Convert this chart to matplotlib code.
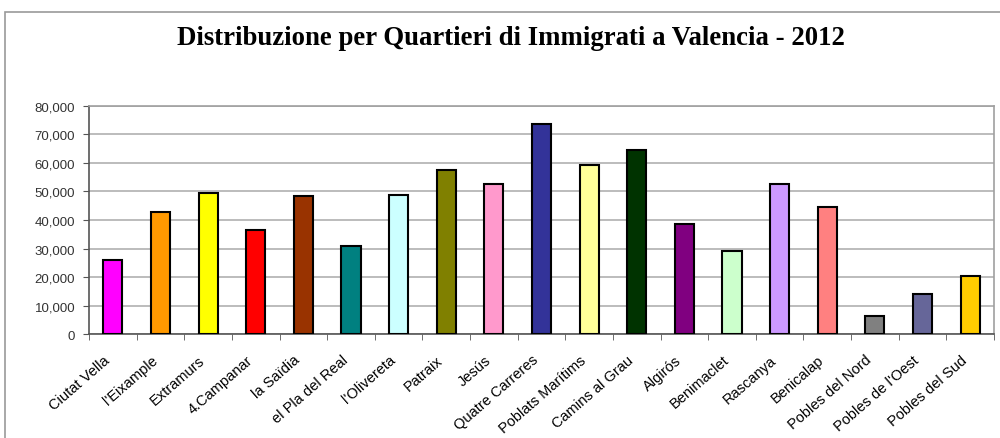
import matplotlib.pyplot as plt
from matplotlib.patches import Rectangle
from matplotlib.ticker import FuncFormatter, MultipleLocator
import numpy as np

# data
quartieri = ["Ciutat Vella", "l'Eixample", "Extramurs", "4.Campanar", "la Saïdia",
             "el Pla del Real", "l'Olivereta", "Patraix", "Jesús", "Quatre Carreres",
             "Poblats Marítims", "Camins al Grau", "Algirós", "Benimaclet", "Rascanya",
             "Benicalap", "Pobles del Nord", "Pobles de l'Oest", "Pobles del Sud"]
immigrati = [26000, 42900, 49300, 36400, 48300, 31000, 48900, 57600, 52700, 73500,
             59100, 64600, 38600, 29300, 52700, 44600, 6500, 14200, 20500]
colori = ["#FF00FF", "#FF9900", "#FFFF00", "#FF0000", "#993300", "#008080", "#CCFFFF",
          "#808000", "#FF99CC", "#333399", "#FFFF99", "#003300", "#800080", "#CCFFCC",
          "#CC99FF", "#FF8080", "#808080", "#666699", "#FFCC00"]

fig = plt.figure(figsize=(10, 4.39), dpi=100)
ax = fig.add_axes([0.089, 0.2362, 0.905, 0.5207])

# outer chart border (only top and left edges are visible)
fig.patches.append(Rectangle((0.005, -0.1), 1.2, 1.07, transform=fig.transFigure,
                             fill=False, edgecolor="#9a9a9a", linewidth=1.2))

x = np.arange(len(quartieri))
ax.bar(x, immigrati, width=0.4, color=colori, edgecolor="black", linewidth=1.5, zorder=3)

ax.set_xlim(-0.5, len(quartieri) - 0.5)
ax.set_ylim(0, 80000)
ax.yaxis.set_major_locator(MultipleLocator(10000))
ax.yaxis.set_major_formatter(FuncFormatter(lambda v, p: f"{int(v):,}"))
ax.grid(axis="y", color="#b0b0b0", linewidth=1.2, zorder=0)

# category labels drawn as annotations so they can be nudged like the original
ax.set_xticks(x)
ax.set_xticklabels([])
for i, nome in zip(x, quartieri):
    ax.annotate(nome, xy=(i, 0), xycoords=("data", "axes fraction"),
                xytext=(-7, -13), textcoords="offset points",
                rotation=41, rotation_mode="anchor", ha="right", va="top",
                fontsize=10.5, family="Liberation Sans")
ax.set_xticks(np.arange(-0.5, len(quartieri)), minor=True)
ax.tick_params(axis="x", which="major", length=0)
ax.tick_params(axis="x", which="minor", length=4, color="#555555")
ax.tick_params(axis="y", length=4, pad=6, color="#555555", labelsize=9.5, labelcolor="#333333")
for lbl in ax.get_yticklabels():
    lbl.set_family("Liberation Sans")

for s in ["top", "right"]:
    ax.spines[s].set_color("#a0a0a0")
    ax.spines[s].set_linewidth(1.2)
for s in ["left", "bottom"]:
    ax.spines[s].set_color("#555555")
    ax.spines[s].set_linewidth(1.2)

fig.text(0.511, 0.913, "Distribuzione per Quartieri di Immigrati a Valencia - 2012",
         ha="center", va="center", fontsize=19.3, fontweight="bold", family="Liberation Serif")

fig.savefig("out.png", dpi=100)
